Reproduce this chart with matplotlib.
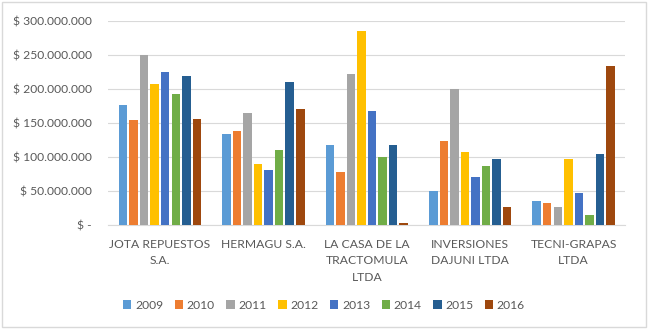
import matplotlib.pyplot as plt
import numpy as np
from matplotlib.ticker import FuncFormatter
from matplotlib.patches import Rectangle

plt.rcParams['font.family'] = ['Lato', 'DejaVu Sans']

empresas = ["JOTA REPUESTOS\nS.A.", "HERMAGU S.A.", "LA CASA DE LA\nTRACTOMULA\nLTDA",
            "INVERSIONES\nDAJUNI LTDA", "TECNI-GRAPAS\nLTDA"]
years = ["2009", "2010", "2011", "2012", "2013", "2014", "2015", "2016"]
colors = ["#5B9BD5", "#ED7D31", "#A5A5A5", "#FFC000", "#4472C4", "#70AD47", "#255E91", "#9E480E"]

# values in millions of pesos, one list per year (order follows empresas)
v2009 = [176, 134, 117, 50, 35]
v2010 = [154, 138, 78, 124, 33]
v2011 = [250, 165, 222, 200, 26]
v2012 = [207, 89, 285, 107, 97]
v2013 = [224, 81, 168, 70, 47]
v2014 = [192, 110, 100, 87, 15]
v2015 = [219, 210, 118, 97, 105]
v2016 = [155, 170, 3, 27, 233]
series = [v2009, v2010, v2011, v2012, v2013, v2014, v2015, v2016]

fig = plt.figure(figsize=(6.48, 3.29), dpi=100)
fig.patches.append(Rectangle((0.003, 0.005), 0.994, 0.99, transform=fig.transFigure,
                             fill=False, edgecolor="#D9D9D9", linewidth=1))
ax = fig.add_axes([0.167, 0.316, 0.798, 0.621])

x = np.arange(len(empresas))
step = 0.102
width = 0.082
for i, (yr, vals) in enumerate(zip(years, series)):
    ax.bar(x + (i - 3.5) * step, np.array(vals) * 1e6, width, color=colors[i], label=yr, zorder=3)

ax.set_xlim(-0.5, len(empresas) - 0.5)
ax.set_ylim(0, 300e6)
ax.set_yticks(np.arange(0, 300e6 + 1, 50e6))

def fmt(v, pos):
    if v == 0:
        return "$ -"
    return "$ " + f"{int(v):,}".replace(",", ".")

ax.yaxis.set_major_formatter(FuncFormatter(fmt))
ax.grid(axis="y", color="#D9D9D9", linewidth=0.8, zorder=0)
for s in ["top", "right", "left"]:
    ax.spines[s].set_visible(False)
ax.spines["bottom"].set_color("#D9D9D9")
ax.tick_params(axis="both", length=0, colors="#595959", labelsize=8.7)
ax.tick_params(axis="y", pad=12)
ax.set_xticks(x)
ax.set_xticklabels(empresas, linespacing=1.6)
ax.tick_params(axis="x", pad=10)

fig.legend(loc="center", bbox_to_anchor=(0.5, 0.072), ncol=8, frameon=False,
           fontsize=8.7, handlelength=0.7, handleheight=0.7, handletextpad=0.3,
           columnspacing=0.95, labelcolor="#595959")

fig.savefig("out.png", dpi=100)
